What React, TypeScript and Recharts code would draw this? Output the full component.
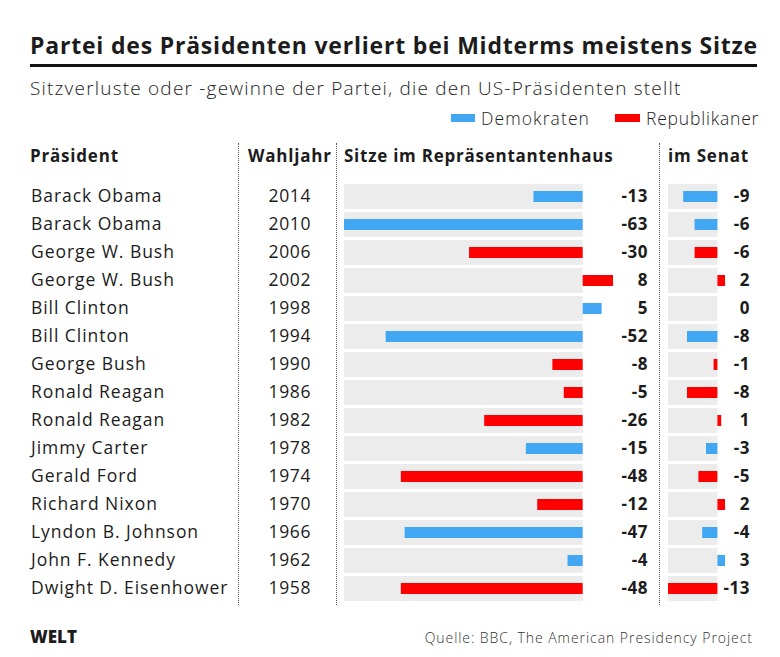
import { Bar, BarChart, Cell, XAxis, YAxis } from "recharts";

const presidents = [
  "Barack Obama",
  "Barack Obama",
  "George W. Bush",
  "George W. Bush",
  "Bill Clinton",
  "Bill Clinton",
  "George Bush",
  "Ronald Reagan",
  "Ronald Reagan",
  "Jimmy Carter",
  "Gerald Ford",
  "Richard Nixon",
  "Lyndon B. Johnson",
  "John F. Kennedy",
  "Dwight D. Eisenhower",
];
const years = ["2014", "2010", "2006", "2002", "1998", "1994", "1990", "1986", "1982", "1978", "1974", "1970", "1966", "1962", "1958"];
const parties = ["D", "D", "R", "R", "D", "D", "R", "R", "R", "D", "R", "R", "D", "D", "R"];
const houseSeats = [-13, -63, -30, 8, 5, -52, -8, -5, -26, -15, -48, -12, -47, -4, -48];
const senateSeats = [-9, -6, -6, 2, 0, -8, -1, -8, 1, -3, -5, 2, -4, 3, -13];

const houseDomain: [number, number] = [-63, 8];
const senateDomain: [number, number] = [-13, 2];

const colors = {
  D: "#42a7f3",
  R: "#ff0000",
  band: "#ececec",
  text: "#1c1c1c",
};

const font = "'Open Sans', Lato, sans-serif";

const rows = years.map((year, i) => ({
  year,
  name: presidents[i],
  party: parties[i],
  house: houseSeats[i],
  senate: senateSeats[i],
  houseBg: houseDomain[0],
  senateBg: senateDomain[0],
}));

const ROW_H = 28;
const TOP = 182;
const CHART_H = ROW_H * rows.length;

// right-hand tick: the seat change, right aligned at a fixed x
const valueTick = (values: number[], x: number) => (p: any) => (
  <text
    x={x}
    y={p.y}
    dy="0.36em"
    textAnchor="end"
    fontFamily={font}
    fontWeight={700}
    fontSize={17}
    letterSpacing={0.5}
    fill={colors.text}
  >
    {values[p.index]}
  </text>
);

const RowTick = (p: any) => {
  const i = p.index;
  return (
    <g>
      <text x={31} y={p.y} dy="0.36em" fontFamily={font} fontSize={17.5} letterSpacing={0.95} fill={colors.text}>
        {presidents[i]}
      </text>
      <text x={311} y={p.y} dy="0.36em" textAnchor="end" fontFamily={font} fontSize={17.5} letterSpacing={0.6} fill={colors.text}>
        {years[i]}
      </text>
    </g>
  );
};

const dotted = (left: number) => (
  <div
    style={{
      position: "absolute",
      left,
      top: 143,
      height: 462,
      borderLeft: "1.5px dotted #555",
    }}
  />
);

const abs = (left: number, top: number, extra: React.CSSProperties = {}) => ({
  position: "absolute" as const,
  left,
  top,
  whiteSpace: "nowrap" as const,
  fontFamily: font,
  color: colors.text,
  lineHeight: "24px",
  ...extra,
});

export default function App() {
  return (
    <div style={{ position: "absolute", left: 0, top: 0, width: 780, height: 657, background: "#fff", overflow: "hidden" }}>
      <div style={abs(30, 31, { fontSize: 23, fontWeight: 700, lineHeight: "28px", letterSpacing: "0.8px" })}>
        Partei des Präsidenten verliert bei Midterms meistens Sitze
      </div>
      <div style={{ position: "absolute", left: 30, top: 64, width: 727, height: 3, background: "#111" }} />
      <div style={abs(30, 76, { fontSize: 19, fontWeight: 300, letterSpacing: "1.2px" })}>
        Sitzverluste oder -gewinne der Partei, die den US-Präsidenten stellt
      </div>

      <div style={{ position: "absolute", left: 451, top: 114, width: 24, height: 8, background: colors.D }} />
      <div style={abs(481, 106, { fontSize: 17.5, fontWeight: 300, letterSpacing: "1.1px" })}>Demokraten</div>
      <div style={{ position: "absolute", left: 615, top: 114, width: 25, height: 8, background: colors.R }} />
      <div style={abs(646, 106, { fontSize: 17.5, fontWeight: 300, letterSpacing: "0.8px" })}>Republikaner</div>

      <div style={abs(30, 144, { fontSize: 17, fontWeight: 700, letterSpacing: "0.8px" })}>Präsident</div>
      <div style={abs(248, 144, { fontSize: 17, fontWeight: 700, letterSpacing: "0.8px" })}>Wahljahr</div>
      <div style={abs(344, 144, { fontSize: 17, fontWeight: 700, letterSpacing: "0.75px" })}>Sitze im Repräsentantenhaus</div>
      <div style={abs(668, 144, { fontSize: 17, fontWeight: 700, letterSpacing: "0.8px" })}>im Senat</div>

      {dotted(238)}
      {dotted(336)}
      {dotted(659)}

      <div style={{ position: "absolute", left: 0, top: TOP }}>
        <BarChart
          width={655}
          height={CHART_H}
          data={rows}
          layout="vertical"
          margin={{ top: 0, right: 0, bottom: 0, left: 0 }}
        >
          <XAxis xAxisId={0} type="number" domain={houseDomain} allowDataOverflow hide />
          <YAxis
            yAxisId="bg"
            type="category"
            dataKey="year"
            orientation="right"
            width={42}
            axisLine={false}
            tickLine={false}
            tick={valueTick(houseSeats, 648)}
            interval={0}
          />
          <YAxis
            yAxisId="val"
            type="category"
            dataKey="year"
            width={344}
            axisLine={false}
            tickLine={false}
            tick={RowTick}
            interval={0}
          />
          <Bar yAxisId="bg" dataKey="houseBg" barSize={25} fill={colors.band} isAnimationActive={false} />
          <Bar yAxisId="val" dataKey="house" barSize={11} isAnimationActive={false}>
            {rows.map((r) => (
              <Cell key={r.year} fill={colors[r.party as "D" | "R"]} />
            ))}
          </Bar>
        </BarChart>
      </div>

      <div style={{ position: "absolute", left: 668, top: TOP }}>
        <BarChart
          width={90}
          height={CHART_H}
          data={rows}
          layout="vertical"
          margin={{ top: 0, right: 0, bottom: 0, left: 0 }}
        >
          <XAxis xAxisId={0} type="number" domain={senateDomain} allowDataOverflow hide />
          <YAxis
            yAxisId="bg"
            type="category"
            dataKey="year"
            orientation="right"
            width={33}
            axisLine={false}
            tickLine={false}
            tick={valueTick(senateSeats, 82)}
            interval={0}
          />
          <YAxis yAxisId="val" type="category" dataKey="year" hide />
          <Bar yAxisId="bg" dataKey="senateBg" barSize={25} fill={colors.band} isAnimationActive={false} />
          <Bar yAxisId="val" dataKey="senate" barSize={11} isAnimationActive={false}>
            {rows.map((r) => (
              <Cell key={r.year} fill={colors[r.party as "D" | "R"]} />
            ))}
          </Bar>
        </BarChart>
      </div>

      <div style={abs(30, 625, { fontSize: 17, fontWeight: 800, letterSpacing: "0px" })}>WELT</div>
      <div style={abs(0, 626, { fontSize: 14, fontWeight: 300, width: 753, textAlign: "right", color: "#333", letterSpacing: "0.95px" })}>
        Quelle: BBC, The American Presidency Project
      </div>
    </div>
  );
}
